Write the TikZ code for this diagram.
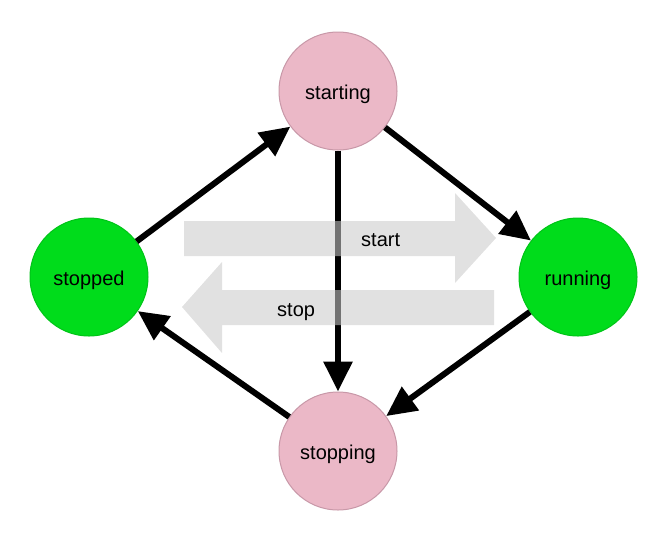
\documentclass[tikz,border=0pt]{standalone}
\usepackage{fontspec}
\setmainfont{Liberation Sans}
\usetikzlibrary{arrows.meta}
\definecolor{pinkfill}{HTML}{EBB8C7}
\definecolor{pinkdraw}{HTML}{C898A8}
\definecolor{greenfill}{HTML}{00DC1B}
\definecolor{greendraw}{HTML}{00C418}
\definecolor{bigarrowgray}{HTML}{CACACA}
\begin{document}
\begin{tikzpicture}[x=1pt,y=-1pt,
  state/.style={circle, minimum size=118pt, inner sep=0pt, font=\fontsize{20}{24}\selectfont, text height=16pt, text depth=0pt, line width=1pt},
  pinkstate/.style={state, fill=pinkfill, draw=pinkdraw},
  greenstate/.style={state, fill=greenfill, draw=greendraw},
  flow/.style={line width=6pt, -{Triangle[length=30pt,width=28pt]}},
  bigarrow/.style={fill=bigarrowgray, fill opacity=0.57, draw=none},
  lbl/.style={font=\fontsize{20}{24}\selectfont, inner sep=0pt, anchor=base west}]
\useasboundingbox (0,0) rectangle (666,539);
\node[pinkstate] (starting) at (338,91) {starting};
\node[pinkstate] (stopping) at (338,451) {stopping};
\node[greenstate] (stopped) at (89,277) {stopped};
\node[greenstate] (running) at (578,277) {running};
\draw[flow] (stopped) -- (starting);
\draw[flow] (starting) -- (running);
\draw[flow] (starting) -- (stopping);
\draw[flow] (running) -- (stopping);
\draw[flow] (stopping) -- (stopped);
\fill[bigarrow] (184,221) -- (455,221) -- (455,193) -- (496,238) -- (455,283) -- (455,256) -- (184,256) -- cycle;
\fill[bigarrow] (494,290) -- (222,290) -- (222,262) -- (182,307) -- (222,353) -- (222,325) -- (494,325) -- cycle;
\node[lbl] (startlbl) at (361,246) {start};
\node[lbl] (stoplbl) at (277,316) {stop};
\end{tikzpicture}
\end{document}
